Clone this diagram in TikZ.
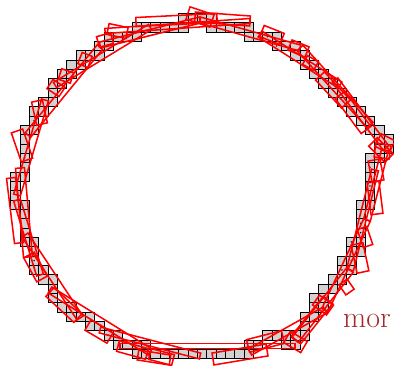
\documentclass[tikz,border=0pt]{standalone}
\usepackage{tikz}
\usetikzlibrary{calc}
\definecolor{morered}{HTML}{A32A2A}

\begin{document}
\begin{tikzpicture}[x=0.03cm, y=-0.03cm,
  pixel/.style={draw=black, fill=gray!35, line width=0.6pt},
  blur/.style={draw=red, line width=1.3pt},
  centre/.style={fill=black},
]
  \useasboundingbox (0,0) rectangle (394,366);

  % Pixels du contour
  \foreach \r/\a/\b in {0/18/21, 1/13/18, 1/21/25, 2/10/13, 2/25/28, 3/9/10, 3/28/30,
      4/7/9, 4/30/31, 5/6/7, 5/31/32, 6/5/6, 6/32/33, 7/4/5, 7/33/34, 8/4/4, 8/34/35,
      9/3/4, 9/35/36, 10/2/3, 10/36/37, 11/2/2, 11/37/38, 12/1/2, 12/38/39,
      13/1/1, 13/39/40, 14/1/1, 14/39/40, 15/1/1, 15/38/39, 16/1/1, 16/38/38,
      17/0/1, 17/38/38, 18/0/0, 18/38/38, 19/0/0, 19/38/38, 20/0/1, 20/37/38,
      21/1/1, 21/37/37, 22/1/1, 22/37/37, 23/1/1, 23/37/37, 24/1/2, 24/36/37,
      25/2/2, 25/36/37, 26/2/2, 26/35/36, 27/2/3, 27/35/36, 28/3/4, 28/34/35,
      29/4/4, 29/33/34, 30/4/4, 30/32/33, 31/5/6, 31/32/33, 32/6/8, 32/31/32,
      33/8/9, 33/31/31, 34/10/11, 34/27/31, 35/11/14, 35/25/26, 35/29/30, 36/13/25} {
    \foreach \c in {\a,...,\b}
      \draw[pixel] ({10.7+9.33*\c},{13.3+9.33*\r}) rectangle ++(9.33,9.33);
  }
  \foreach \c/\r in {11/2, 25/2, 27/2, 28/3, 2/11, 1/15, 38/16, 38/17, 38/18, 38/19,
      37/21, 37/22, 37/23, 36/24, 36/25, 36/26, 35/27, 2/26, 10/34}
    \fill[centre] ({15.4+9.33*\c},{18+9.33*\r}) circle (0.8);

  % Segments flous
  \foreach \xa/\ya/\xb/\yb/\w in {136/22/217/18/9, 105/31/250/21/5, 188/13/212/21/13,
      108/29/127/33/11, 98/42/112/38/11, 80/58/90/62/12, 60/74/72/78/11, 50/84/62/92/11,
      37/101/42/124/11, 17/131/27/160/12, 11/178/19/243/9, 20/168/28/257/9,
      17/195/45/100/7, 28/135/100/47/7, 55/85/150/27/6, 100/45/200/20/6,
      29/255/42/279/12, 50/292/78/318/12, 88/325/110/338/12, 118/346/147/354/11,
      138/355/170/360/10, 150/354/173/360/11,
      17/200/40/275/7, 25/235/80/318/7, 50/290/150/352/7, 100/330/200/356/6,
      120/346/295/346/5, 213/359/267/350/12, 248/346/283/337/13, 287/337/304/347/13,
      296/340/328/300/12, 316/300/330/310/12, 343/282/350/292/10, 357/244/363/272/12,
      362/228/368/246/10, 373/182/377/214/12, 374/160/378/181/12, 375/150/390/152/14,
      373/142/389/158/12,
      250/352/325/310/7, 295/340/350/270/8, 325/310/367/220/7, 350/270/375/170/7,
      367/220/385/150/7,
      378/140/392/147/14, 340/95/366/130/12, 320/76/346/104/12, 305/60/316/66/10,
      290/45/307/52/11, 262/31/282/39/12, 195/17/250/21/10,
      200/20/300/48/6, 260/34/340/85/7, 300/48/370/125/8, 335/80/386/148/7} {
    \pgfmathsetmacro{\hw}{\w*0.015}
    \draw[blur] ($(\xa,\ya)!\hw cm!90:(\xb,\yb)$) -- ($(\xa,\ya)!\hw cm!-90:(\xb,\yb)$)
      -- ($(\xb,\yb)!\hw cm!90:(\xa,\ya)$) -- ($(\xb,\yb)!\hw cm!-90:(\xa,\ya)$) -- cycle;
  }

  % Texte
  \node[text=morered, anchor=base west, inner sep=0pt,
        font=\fontsize{25.6}{30}\selectfont] (more) at (343,327) {mor};
\end{tikzpicture}
\end{document}
